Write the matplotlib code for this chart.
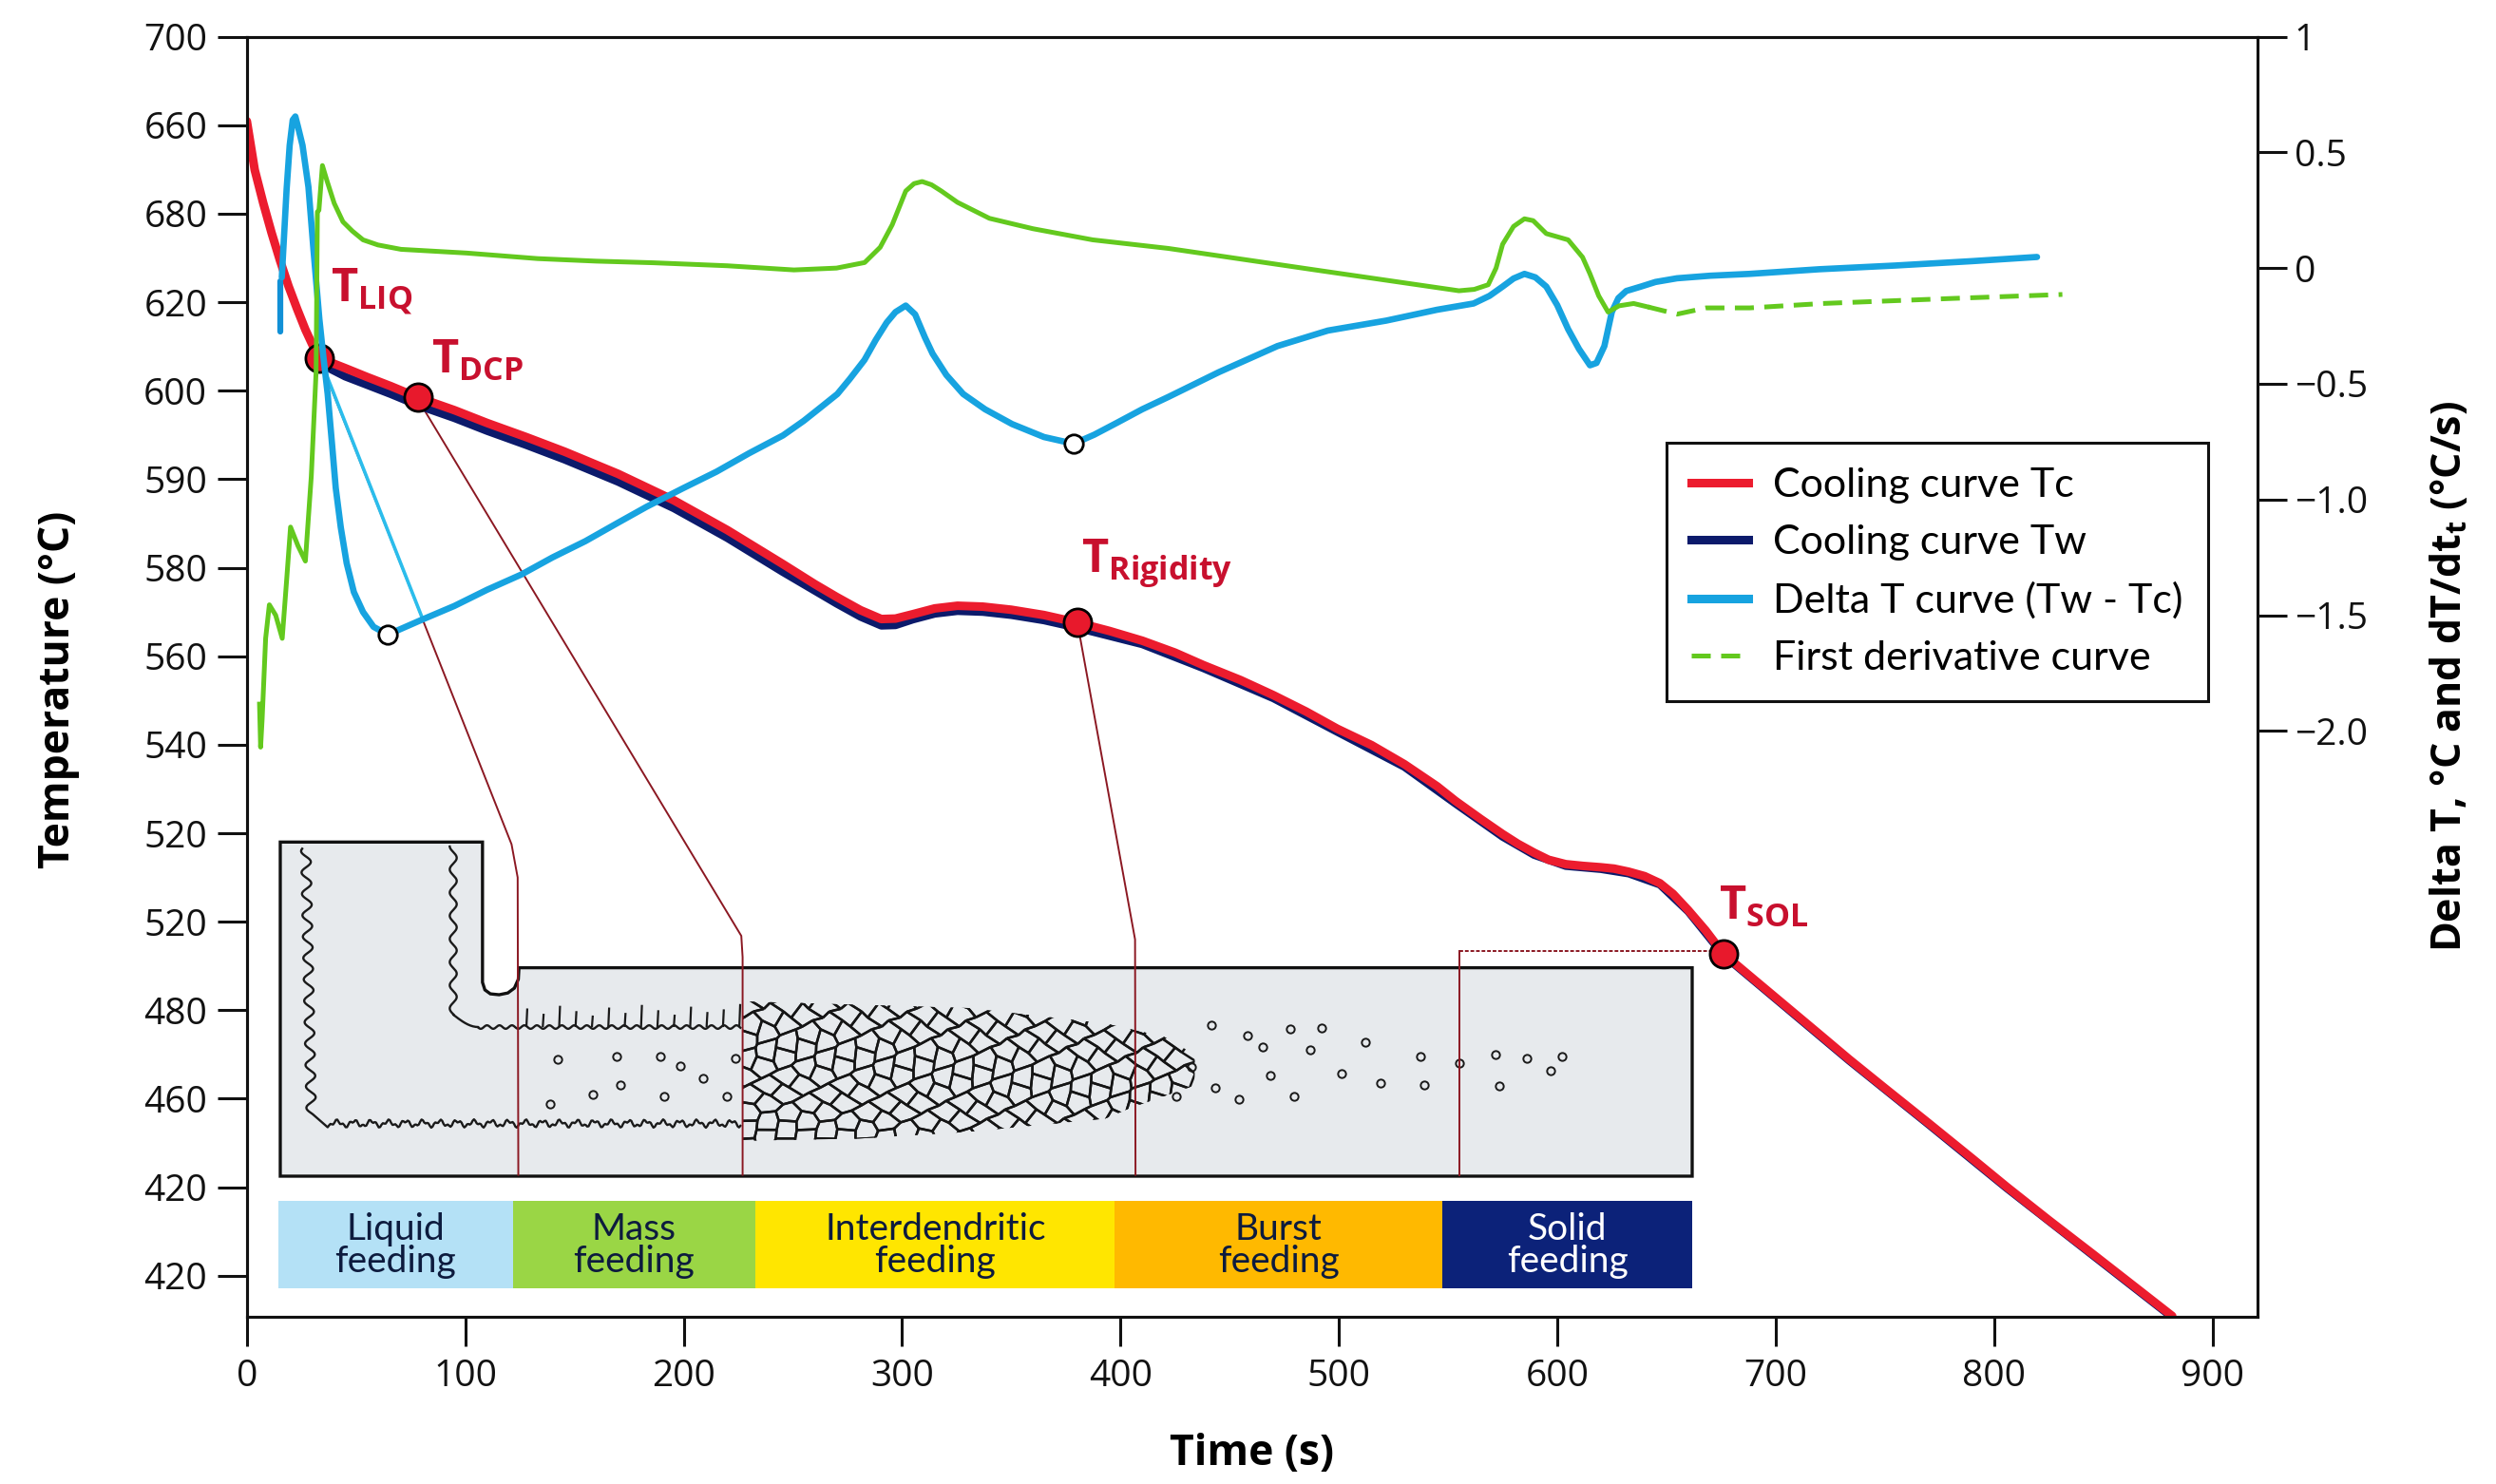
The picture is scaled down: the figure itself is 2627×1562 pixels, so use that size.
import numpy as np
import matplotlib
matplotlib.use('Agg')
import matplotlib.pyplot as plt
from matplotlib.patches import Polygon, Rectangle
from matplotlib.collections import LineCollection
from matplotlib.lines import Line2D

plt.rcParams['font.family'] = ['Open Sans', 'DejaVu Sans']
plt.rcParams['mathtext.fontset'] = 'custom'
plt.rcParams['mathtext.rm'] = 'Open Sans'
plt.rcParams['mathtext.bf'] = 'Open Sans:bold'

# ---- data ----
# left axis is drawn on a plain 20-step scale, labelled as in the original figure
temp_tick_pos = [700, 680, 660, 640, 620, 600, 580, 560, 540, 520, 500, 480, 460, 440, 420]
temp_tick_labels = ['700', '660', '680', '620', '600', '590', '580', '560', '540',
                    '520', '520', '480', '460', '420', '420']
rate_ticks = [1, 0.5, 0, -0.5, -1.0, -1.5, -2.0]
rate_labels = ['1', '0.5', '0', '\u22120.5', '\u22121.0', '\u22121.5', '\u22122.0']
time_ticks = [0, 100, 200, 300, 400, 500, 600, 700, 800, 900]

# cooling curve Tc
time_c = [0, 3.6, 7.5, 11.3, 15.2, 19.1, 23, 26.8, 30, 33.1, 45, 55, 66, 78.2, 95, 110, 128,
          145.6, 170, 195.6, 220, 245.5, 260, 270, 281, 290.5, 297, 305, 315, 325.4, 337, 350,
          365, 380.3, 395, 410, 425, 437.9, 455, 470, 485, 499.3, 515, 530, 545, 553.4, 565,
          575, 582, 589.4, 596, 603.9, 612, 620, 626, 632.7, 640, 647, 653, 660, 668, 676,
          690, 705, 720, 733.7, 750, 770, 790, 805.8, 825, 845, 865, 881.6]
temp_c = [680.9, 669.9, 662.4, 655.7, 649.4, 643.6, 638.5, 633.8, 630.4, 627.4, 625.1, 623.1,
          621.0, 618.5, 615.6, 612.7, 609.5, 606.2, 601.2, 595.2, 588.5, 580.8, 576.3, 573.4,
          570.4, 568.4, 568.5, 569.5, 570.8, 571.4, 571.2, 570.5, 569.3, 567.6, 565.7, 563.5,
          560.8, 558.0, 554.6, 551.2, 547.5, 543.6, 539.9, 535.6, 530.6, 527.3, 523.2, 519.8,
          517.6, 515.6, 514.0, 513.0, 512.6, 512.3, 512.0, 511.3, 510.3, 508.7, 506.3, 502.6,
          498.0, 492.8, 487.0, 480.8, 474.6, 468.9, 462.4, 454.5, 446.5, 440.1, 432.6, 425.0,
          417.3, 410.9]

# cooling curve Tw
time_w = [33.1, 45, 55, 66, 78.2, 95, 110, 128, 145.6, 170, 195.6, 220, 245.5, 260, 270, 281,
          290.5, 297, 305, 315, 325.4, 337, 350, 365, 380.3, 410, 437.9, 470, 499.3, 530,
          553.4, 575, 589.4, 603.9, 620, 632.7, 647, 660, 676, 705, 733.7, 770, 805.8, 845,
          881.6]
temp_w = [626.2, 623.2, 621.3, 619.2, 616.7, 613.8, 610.9, 607.7, 604.4, 599.4, 593.4, 586.7,
          579.0, 574.8, 571.9, 568.9, 566.9, 567.0, 568.3, 569.6, 570.2, 570.0, 569.3, 568.1,
          566.4, 562.7, 557.3, 550.5, 542.9, 535.0, 526.7, 519.2, 515.1, 512.6, 511.9, 510.9,
          508.4, 502.3, 492.5, 480.5, 468.6, 454.2, 439.8, 424.7, 410.6]

# delta T curve (Tw - Tc), right axis
time_d = [16.0, 18.2, 19.6, 21.0, 22.2, 23.3, 25.5, 28.2, 30.5, 33.2, 35.0, 37.0, 39.0, 40.7,
          43.0, 45.7, 49.0, 53.2, 58.0, 64.5, 80, 95.0, 110, 125.7, 140, 155.0, 170, 183.1,
          200, 215.0, 230, 245.5, 255, 263, 270.4, 276, 282.8, 288, 293.0, 297, 301.7, 306,
          310.5, 314, 320.3, 328.0, 338, 350.4, 365, 378.6, 388, 398.7, 410, 421.9, 445,
          471.9, 495, 521.7, 545, 561.7, 569, 575.0, 580, 585.0, 590, 595.0, 600, 605.0, 610,
          615.0, 618, 621.6, 625.0, 628, 631.6, 638.3, 645, 654.9, 670, 688.2, 720, 754.7,
          790, 819.7]
delta_t = [-0.04, 0.34, 0.53, 0.64, 0.655, 0.615, 0.53, 0.35, 0.08, -0.22, -0.38, -0.544,
           -0.76, -0.95, -1.12, -1.275, -1.40, -1.486, -1.55, -1.584, -1.52, -1.46, -1.39,
           -1.324, -1.25, -1.18, -1.10, -1.031, -0.95, -0.88, -0.80, -0.723, -0.66, -0.60,
           -0.544, -0.48, -0.397, -0.31, -0.235, -0.19, -0.162, -0.20, -0.30, -0.37, -0.462,
           -0.544, -0.61, -0.674, -0.73, -0.759, -0.72, -0.667, -0.61, -0.557, -0.45, -0.337,
           -0.27, -0.227, -0.18, -0.153, -0.12, -0.08, -0.045, -0.025, -0.04, -0.08, -0.16,
           -0.264, -0.35, -0.42, -0.41, -0.337, -0.19, -0.13, -0.099, -0.08, -0.06, -0.044,
           -0.033, -0.025, -0.005, 0.011, 0.03, 0.048]

# first derivative curve, solid part then dashed part
time_g = [5.8, 6.3, 7.0, 8.6, 10.3, 13.2, 16.2, 18.2, 20.0, 23.4, 26.8, 29.5, 31.7, 32.3, 33.0,
          34.6, 36.8, 40.0, 44.0, 48.3, 53.2, 60, 70.6, 100.6, 133.1, 160, 186.1, 220, 250.5,
          270.0, 282.9, 290, 295.5, 301.7, 305.5, 309.2, 313.5, 318.0, 325.4, 340.0, 360,
          387.3, 421.9, 488.5, 555.0, 562, 568.4, 572, 575.0, 580, 585.0, 589, 595.0, 605.0,
          611.6, 615.0, 619, 623.3, 628.3, 635.0, 641.6]
deriv_g = [-1.884, -2.07, -1.95, -1.60, -1.455, -1.50, -1.60, -1.35, -1.119, -1.20, -1.266,
           -0.90, -0.449, 0.243, 0.25, 0.443, 0.374, 0.28, 0.2, 0.16, 0.122, 0.10, 0.081,
           0.065, 0.041, 0.03, 0.023, 0.01, -0.008, 0.0, 0.024, 0.09, 0.187, 0.333, 0.365,
           0.374, 0.36, 0.333, 0.284, 0.215, 0.17, 0.122, 0.085, -0.007, -0.098, -0.092,
           -0.072, 0.0, 0.103, 0.18, 0.213, 0.205, 0.149, 0.122, 0.047, -0.025, -0.12, -0.19,
           -0.163, -0.153, -0.168]
time_g_dash = [641.6, 654.9, 668.2, 688.2, 721.4, 781.4, 831.3]
deriv_g_dash = [-0.168, -0.199, -0.172, -0.172, -0.153, -0.131, -0.114]

# characteristic points
point_names = ['LIQ', 'DCP', 'Rigidity', 'SOL']
point_time = [33.1, 78.2, 380.3, 676.0]
point_temp = [627.4, 618.5, 567.6, 492.8]
label_time = [38.3, 84.5, 381.9, 674.2]
label_temp = [640.1, 624.0, 579.0, 500.4]
min_time = [64.5, 378.6]
min_delta = [-1.584, -0.759]

# feeding stages bar
stage_names = ['Liquid\nfeeding', 'Mass\nfeeding', 'Interdendritic\nfeeding',
               'Burst\nfeeding', 'Solid\nfeeding']
stage_edges = [14.6, 121.7, 233.0, 397.5, 547.5, 662.0]
stage_colors = ['#b4e1f6', '#9ad645', '#ffe600', '#ffb900', '#0c2279']
stage_text = ['#0d1b3e', '#0d1b3e', '#0d1b3e', '#0d1b3e', '#ffffff']

# scattered pores in the casting sketch
pore_t = [441.8, 458.0, 477.8, 492.3, 512.1, 465.2, 486.8, 501.3, 537.3, 539.1, 454.4, 479.6,
          519.3, 425.5, 443.6, 571.6, 586.0, 602.3, 596.9, 573.4, 555.4, 468.8, 432.7,
          142.4, 169.4, 189.3, 209.1, 171.2, 191.1, 219.9, 158.6, 138.8, 223.5, 198.3]
pore_T = [476.7, 474.2, 475.7, 476.0, 472.8, 471.7, 471.0, 465.6, 469.6, 463.1, 459.9, 460.6,
          463.5, 460.6, 462.4, 469.9, 469.2, 469.6, 466.4, 462.9, 468.1, 465.3, 467.1,
          468.9, 469.6, 469.6, 464.6, 463.1, 460.6, 460.6, 461.0, 458.8, 469.2, 467.4]

RED = '#ec1c2e'
NAVY = '#0c1a6b'
CYAN = '#17a3e0'
GREEN = '#63c91e'
LABEL_RED = '#c8102e'
LINK = '#8b1822'

fig = plt.figure(figsize=(26.27, 15.62), dpi=100)
ax = fig.add_axes([0.0989, 0.1129, 0.8055, 0.8624])
ax2 = ax.twinx()

ax.set_xlim(0, 920.6)
ax.set_ylim(410.8, 700)
ax2.set_ylim(-4.53, 1.0)

# ---- casting sketch (inset drawing) ----
casting = Polygon([(15.3, 518), (107.9, 518), (107.9, 486.3), (109, 484.6), (111.5, 483.7),
                   (115.5, 483.5), (119.5, 483.9), (122.5, 485), (124.3, 487), (124.6, 489.6),
                   (661.8, 489.6), (661.8, 442.5), (15.3, 442.5)],
                  closed=True, facecolor='#e7eaed', edgecolor='#111111', lw=2.4, zorder=1)
ax.add_patch(casting)

# outer dendrite front in the riser and along the bottom
yy = np.linspace(516.5, 456.5, 200)
xx = 27 + 0.25 * (516.5 - yy) / 6 + 2.2 * np.sin(yy * 1.3)
bx = np.linspace(37, 226, 300)
by = 454.4 + 0.6 * np.sin(bx * 0.8) - 0.35 * np.sin(bx * 2.1)
ax.plot(np.r_[xx, bx], np.r_[yy, by], color='#1a1a1a', lw=1.7, zorder=2)

# inner dendrite front
yy2 = np.linspace(517, 479, 150)
xx2 = 94.5 + 1.6 * np.sin(yy2 * 1.2)
cx = np.linspace(94.5, 106, 20)
cy = 479 - 2.8 * np.sin((cx - 94.5) / 11.5 * np.pi / 2)
tx = np.linspace(106, 226, 240)
ty = 476.2 + 0.4 * np.sin(tx * 1.1)
ax.plot(np.r_[xx2, cx, tx], np.r_[yy2, cy, ty], color='#1a1a1a', lw=1.7, zorder=2)

# dendrite arms on the upper front
arm_x = np.arange(128, 226, 7.5)
arm_h = [4.2, 3.0, 4.8, 3.6, 2.6, 4.4, 3.2, 5.0, 3.8, 2.8, 4.6, 3.4, 4.0, 5.2]
arms = [[(x, 476.2), (x + 0.4, 476.2 + arm_h[k % len(arm_h)])] for k, x in enumerate(arm_x)]
ax.add_collection(LineCollection(arms, colors='#1a1a1a', linewidths=1.6, zorder=2))

# interdendritic cell network
cell_w, cell_h = 12.0, 4.0
segs = []
for i in range(24):
    for j in range(11):
        ccx = 220 + i * 0.75 * cell_w
        ccy = 447 + j * cell_h + (i % 2) * cell_h / 2
        verts = []
        for k in range(7):
            a = np.pi / 3 * k
            vx = ccx + 0.5 * cell_w * np.cos(a)
            vy = ccy + cell_h / np.sqrt(3) * np.sin(a)
            verts.append((vx + 1.8 * np.sin(vx * 0.37 + vy * 1.9),
                          vy + 0.7 * np.sin(vx * 0.53 - vy * 2.3)))
        for k in range(6):
            segs.append([verts[k], verts[k + 1]])
network = LineCollection(segs, colors='#151515', linewidths=1.8, zorder=2)
network_clip = Polygon([(227, 482), (330, 480.5), (393, 477), (420, 474), (434, 470),
                        (434, 463), (405, 458), (393, 455.5), (330, 452.5), (280, 451),
                        (227, 450.5)], closed=True, transform=ax.transData)
ax.add_collection(network)
network.set_clip_path(network_clip)

ax.plot(pore_t, pore_T, 'o', ms=6, mfc='none', mec='#1a1a1a', mew=1.4, zorder=2)

# ---- feeding stage bar ----
for k, name in enumerate(stage_names):
    ax.add_patch(Rectangle((stage_edges[k], 417.1), stage_edges[k + 1] - stage_edges[k],
                           19.85, facecolor=stage_colors[k], edgecolor='none', zorder=2))
    ax.text((stage_edges[k] + stage_edges[k + 1]) / 2, 426.8, name, ha='center', va='center',
            fontsize=28, family=['Lato', 'DejaVu Sans'], color=stage_text[k],
            linespacing=0.95, zorder=3)

# ---- links from points to the sketch ----
ax.plot([33.1, 121.2, 124.0, 124.3], [627.4, 517.5, 510.0, 442.8], color=LINK, lw=1.4, zorder=4)
ax.plot([81.3, 226.4, 227.0, 227.0], [615.6, 496.8, 492.0, 442.8], color=LINK, lw=1.4, zorder=4)
ax.plot([380.3, 406.7, 406.9], [567.6, 496.0, 442.8], color=LINK, lw=1.4, zorder=4)
ax.plot([555.3, 676.0], [493.3, 493.3], color=LINK, lw=1.4, ls=(0, (2, 1)), zorder=4)
ax.plot([555.3, 555.3], [493.3, 442.8], color=LINK, lw=1.4, zorder=4)

# ---- cooling curves ----
ax.plot(time_w, temp_w, color=NAVY, lw=6, solid_capstyle='round', solid_joinstyle='round',
        zorder=5)
ax.plot(time_c, temp_c, color=RED, lw=6.5, solid_capstyle='round', solid_joinstyle='round',
        zorder=6)
ax.plot(point_time, point_temp, 'o', ms=21, mfc='#e8192c', mec='black', mew=2, zorder=7)
for name, x, y in zip(point_names, label_time, label_temp):
    ax.text(x, y, r'$\mathbf{T_{%s}}$' % name, fontsize=35, color=LABEL_RED,
            ha='left', va='baseline', zorder=8)

# ---- right axis curves ----
ax2.plot([15.3, 15.3], [-0.057, -0.276], color='#1190d6', lw=4.5, solid_capstyle='round')
ax2.plot([36.4, 79.9], [-0.46, -1.502], color='#2bbdec', lw=2.6)
ax2.plot(time_d, delta_t, color=CYAN, lw=4.8, solid_capstyle='round', solid_joinstyle='round')
ax2.plot(time_g, deriv_g, color=GREEN, lw=3.6, solid_joinstyle='round')
ax2.plot(time_g_dash, deriv_g_dash, color=GREEN, lw=3.6, ls=(0, (4, 2.2)))
ax2.plot(min_time, min_delta, 'o', ms=14, mfc='white', mec='black', mew=2, zorder=6)

# ---- axes styling ----
ax.set_xticks(time_ticks)
ax.set_yticks(temp_tick_pos)
ax.set_yticklabels(temp_tick_labels)
ax2.set_yticks(rate_ticks)
ax2.set_yticklabels(rate_labels)
ax.tick_params(axis='both', direction='out', length=22, width=2.2, labelsize=28, pad=8,
               colors='#111111')
ax.tick_params(axis='x', pad=10)
ax2.tick_params(axis='y', direction='out', length=22, width=2.2, labelsize=28, pad=6,
                colors='#111111')
for a in (ax, ax2):
    for s in a.spines.values():
        s.set_linewidth(2.2)
        s.set_color('#111111')

ax.set_xlabel('Time (s)', fontsize=32, fontweight='bold')
ax.xaxis.set_label_coords(0.5, -0.091)
ax.set_ylabel('Temperature (\u00b0C)', fontsize=32, fontweight='bold')
ax.yaxis.set_label_coords(-0.083, 0.49)
ax2.set_ylabel('Delta T, \u00b0C and dT/dt$_\\mathbf{t}$ (\u00b0C/s)', fontsize=31,
               fontweight='bold')
ax2.yaxis.set_label_coords(1.085, 0.5)

handles = [Line2D([], [], color=RED, lw=6.5),
           Line2D([], [], color=NAVY, lw=6.5),
           Line2D([], [], color=CYAN, lw=6.5),
           Line2D([], [], color=GREEN, lw=3.6, ls=(0, (4, 2.2)))]
labels = ['Cooling curve Tc', 'Cooling curve Tw', 'Delta T curve (Tw - Tc)',
          'First derivative curve']
leg = ax2.legend(handles, labels, loc='upper left', bbox_to_anchor=(0.7063, 0.6828),
                 prop={'family': ['Lato', 'DejaVu Sans'], 'size': 31}, frameon=True,
                 fancybox=False, framealpha=1, edgecolor='#111111', handlelength=1.4,
                 handletextpad=0.6, labelspacing=0.52, borderpad=0.6, borderaxespad=0)
leg.get_frame().set_linewidth(2.2)
leg.set_zorder(20)

fig.savefig('out.png', dpi=100, facecolor='white')
